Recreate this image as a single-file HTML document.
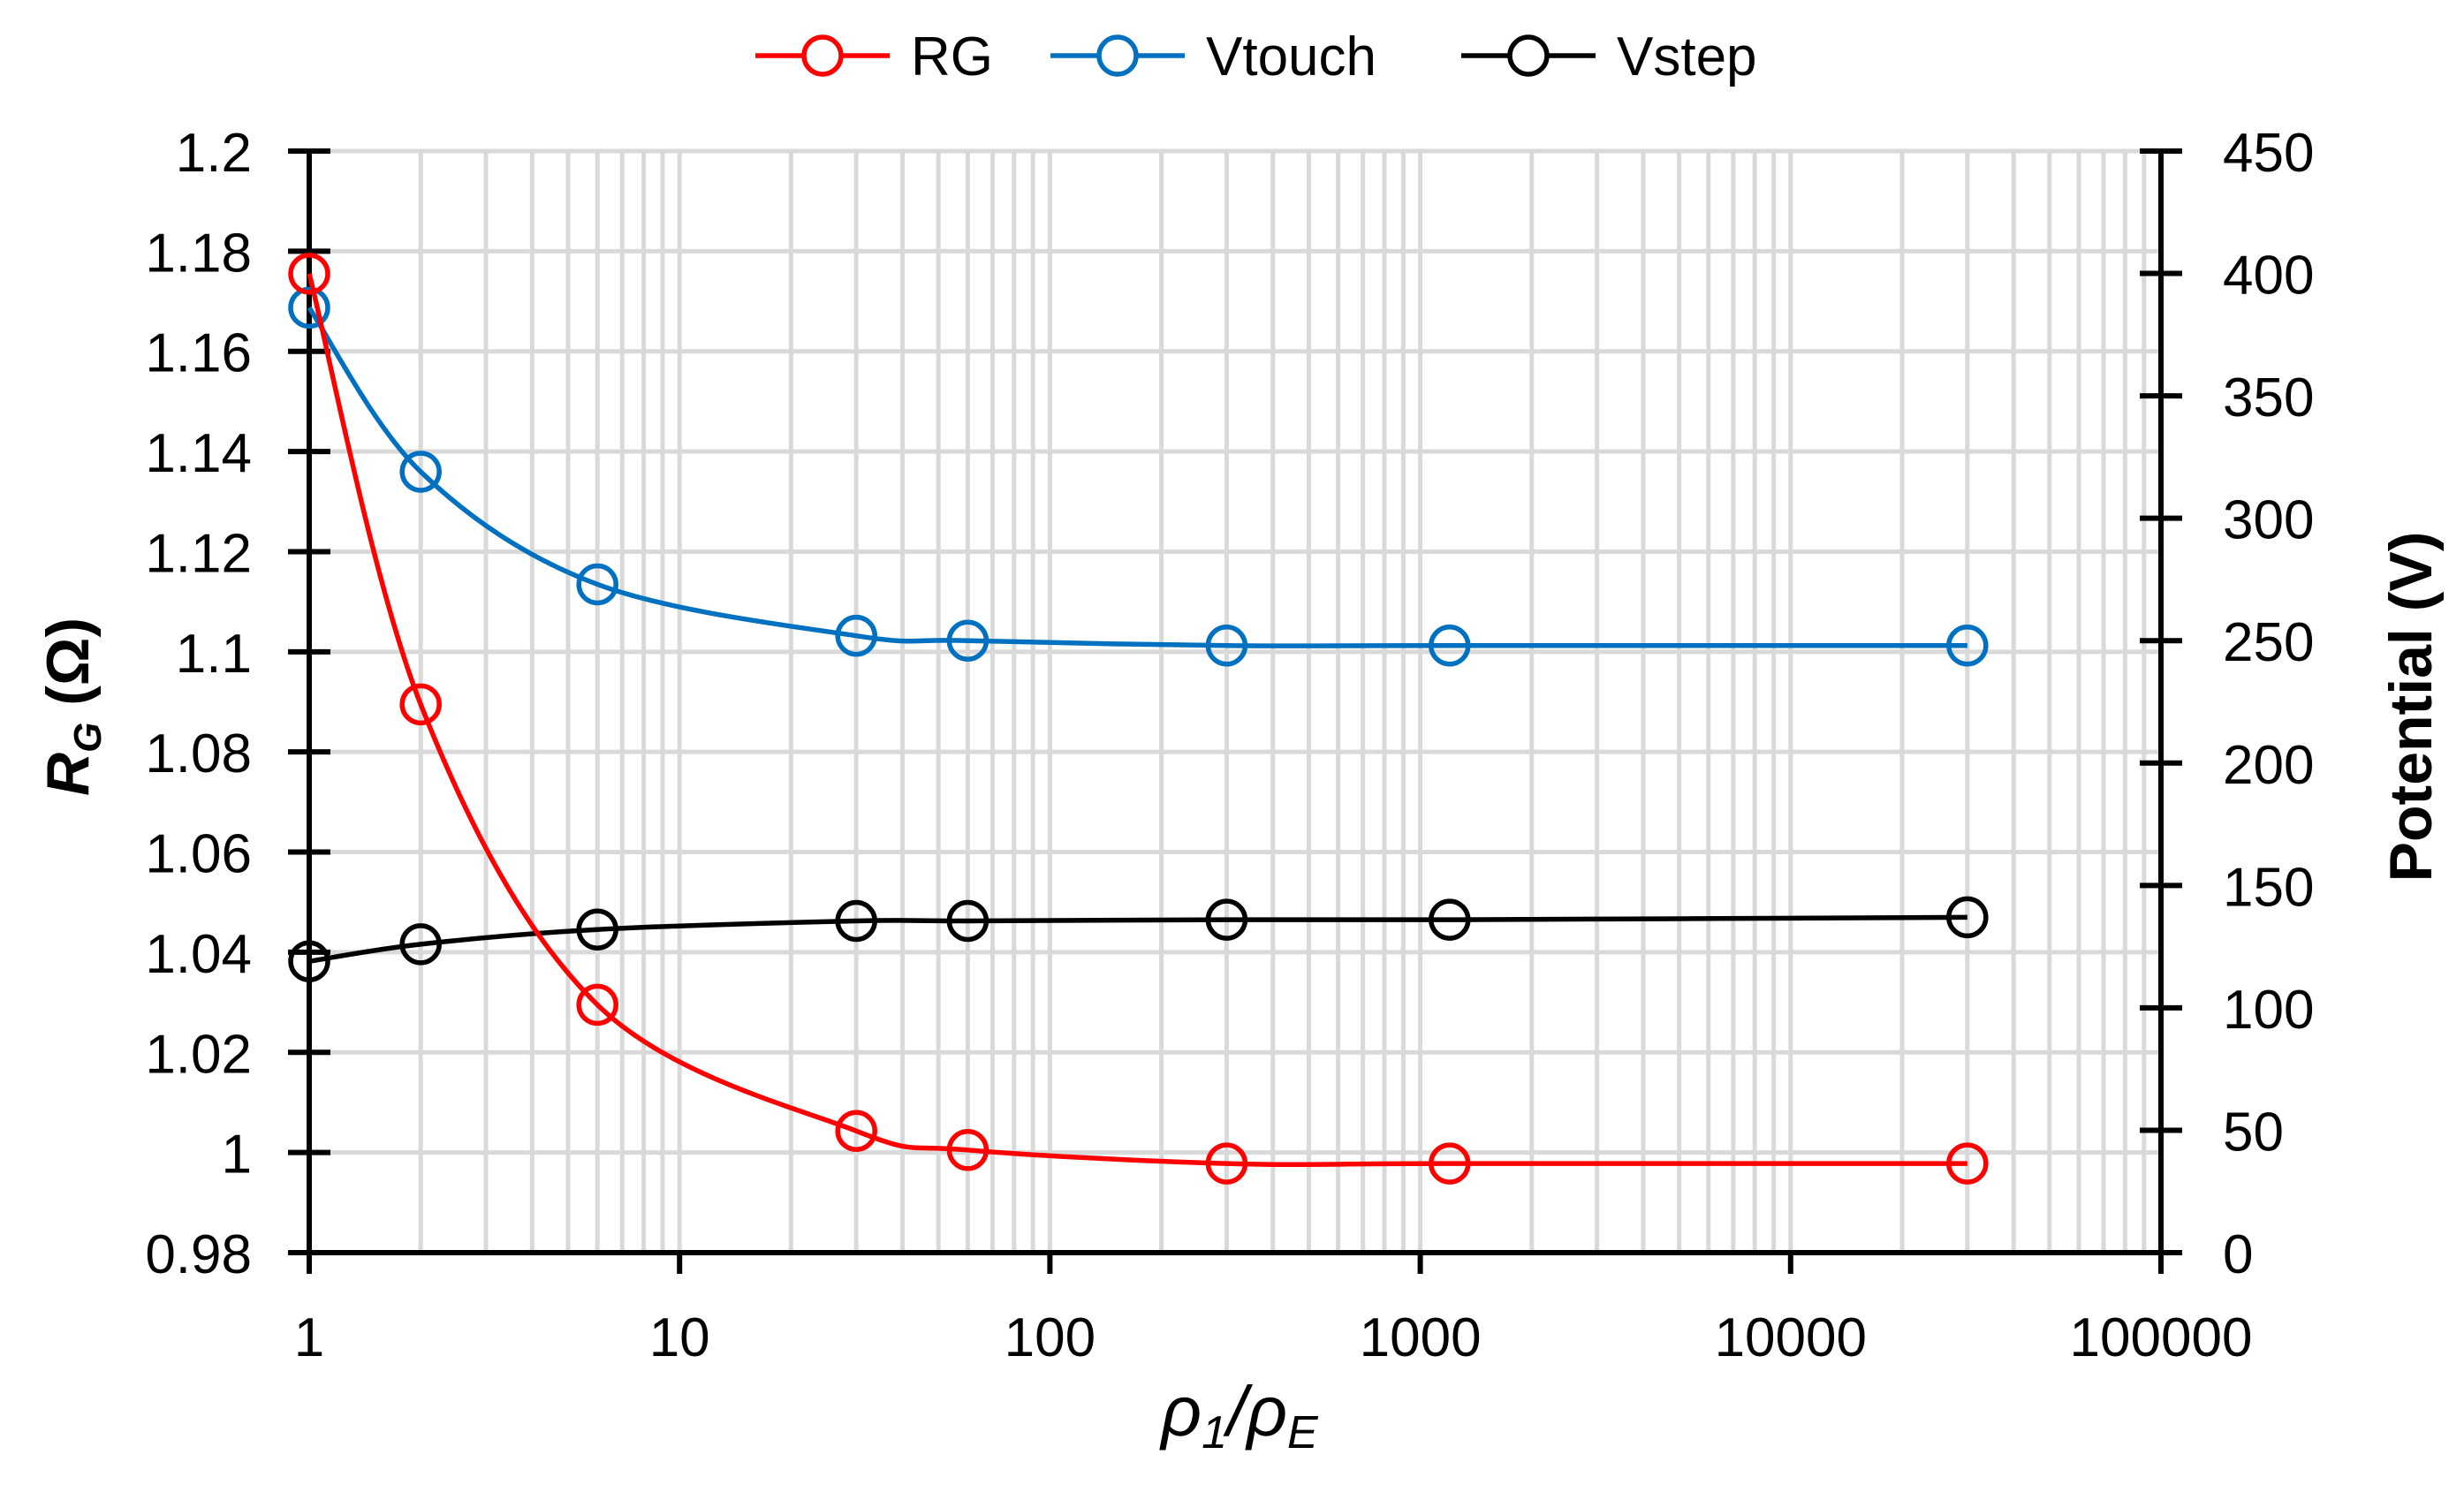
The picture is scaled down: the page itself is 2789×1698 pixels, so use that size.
<!DOCTYPE html>
<html><head><meta charset="utf-8"><style>
html,body{margin:0;padding:0;background:#fff;}
svg{display:block;font-family:"Liberation Sans",sans-serif;}
</style></head><body>
<svg id="chart" width="2789" height="1698" viewBox="0 0 2789 1698" xmlns="http://www.w3.org/2000/svg">
<g id="grid"></g>
<g id="axes"></g>
<g id="series"></g>
<text transform="translate(100,800) rotate(-90)" text-anchor="middle" font-size="68" font-weight="bold"><tspan font-style="italic">R</tspan><tspan font-style="italic" font-size="44" dy="14">G</tspan><tspan dy="-14"> (Ω)</tspan></text>
<text transform="translate(2752,800) rotate(-90)" text-anchor="middle" font-size="68" font-weight="bold">Potential (V)</text>
<text x="1403" y="1625" text-anchor="middle" font-size="80" font-style="italic">ρ<tspan font-size="52" dy="14">1</tspan><tspan dy="-14">/ρ</tspan><tspan font-size="52" dy="14">E</tspan></text>
<g id="legend"></g>
</svg>
<script>
const xValues = [1, 2, 6, 30, 60, 300, 1200, 30000];
const rgValues = [1.1755, 1.0895, 1.0295, 1.0043, 1.0005, 0.9978, 0.9978, 0.9978];
const vtouchValues = [386, 319, 273, 252, 250, 248, 248, 248];
const vstepValues = [119, 126, 132, 135.5, 135.5, 136, 136, 137];
const yTicks = ["0.98","1","1.02","1.04","1.06","1.08","1.1","1.12","1.14","1.16","1.18","1.2"];
const y2Ticks = ["0","50","100","150","200","250","300","350","400","450"];
const xTicks = ["1","10","100","1000","10000","100000"];

const NS="http://www.w3.org/2000/svg";
const L=350,R=2446,T=171,B=1418;
const X=v=>L+(Math.log10(v)/5)*(R-L);
const Y=v=>B-(v-0.98)/0.22*(B-T);
const Y2=v=>B-v/450*(B-T);
function mk(tag,attrs,parent){const e=document.createElementNS(NS,tag);for(const k in attrs)e.setAttribute(k,attrs[k]);parent.appendChild(e);return e;}
const grid=document.getElementById('grid'),axes=document.getElementById('axes'),series=document.getElementById('series'),legend=document.getElementById('legend');

for(let d=0;d<5;d++){for(let m=1;m<=9;m++){const v=Math.pow(10,d)*m;if(v===1)continue;
 const g=mk('line',{x1:X(v),x2:X(v),y1:T,y2:B,stroke:'#d9d9d9','stroke-width':5},grid);
 
 }}
yTicks.forEach(t=>{const v=parseFloat(t);if(v===0.98)return;
 const g=mk('line',{x1:L,x2:R,y1:Y(v),y2:Y(v),stroke:'#d9d9d9','stroke-width':5},grid);
 
 });

let a=mk('line',{x1:L,x2:L,y1:T,y2:B,stroke:'#000','stroke-width':6},axes);

a=mk('line',{x1:R,x2:R,y1:T,y2:B,stroke:'#000','stroke-width':6},axes);

a=mk('line',{x1:L,x2:R,y1:B,y2:B,stroke:'#000','stroke-width':6},axes);


yTicks.forEach(t=>{const y=Y(parseFloat(t));
 const tk=mk('line',{x1:L-24,x2:L+24,y1:y,y2:y,stroke:'#000','stroke-width':6},axes);
 
 const tx=mk('text',{x:285,y:y+23,'text-anchor':'end','font-size':62},axes);tx.textContent=t;
 });
y2Ticks.forEach(t=>{const y=Y2(parseFloat(t));
 const tk=mk('line',{x1:R-24,x2:R+24,y1:y,y2:y,stroke:'#000','stroke-width':6},axes);
 
 const tx=mk('text',{x:2516,y:y+23,'text-anchor':'start','font-size':62},axes);tx.textContent=t;
 });
xTicks.forEach(t=>{const x=X(parseFloat(t));
 const tk=mk('line',{x1:x,x2:x,y1:B,y2:B+24,stroke:'#000','stroke-width':6},axes);
 
 const tx=mk('text',{x:x,y:1535,'text-anchor':'middle','font-size':62},axes);tx.textContent=t;
 });

function smooth(pts){let d=`M${pts[0][0]},${pts[0][1]}`;
 for(let i=0;i<pts.length-1;i++){const p0=pts[Math.max(0,i-1)],p1=pts[i],p2=pts[i+1],p3=pts[Math.min(pts.length-1,i+2)];
  const t=1/6;d+=` C${p1[0]+(p2[0]-p0[0])*t},${p1[1]+(p2[1]-p0[1])*t} ${p2[0]-(p3[0]-p1[0])*t},${p2[1]-(p3[1]-p1[1])*t} ${p2[0]},${p2[1]}`;}
 return d;}
function drawSeries(vals,yf,color,name){
 const pts=xValues.map((x,i)=>[X(x),yf(vals[i])]);
 const p=mk('path',{d:smooth(pts),fill:'none',stroke:color,'stroke-width':5.5},series);
 
 pts.forEach(q=>{const c=mk('circle',{cx:q[0],cy:q[1],r:21,fill:'none',stroke:color,'stroke-width':5.5},series);
  });}
drawSeries(vtouchValues,Y2,'#0070c0','vtouch');
drawSeries(vstepValues,Y2,'#000000','vstep');
drawSeries(rgValues,Y,'#ff0000','rg');

const leg=[['RG','#ff0000',855],['Vtouch','#0070c0',1189],['Vstep','#000000',1654]];
leg.forEach(([lab,col,x0])=>{
 const g=mk('g',{},legend);
 
 
 mk('line',{x1:x0,x2:x0+152,y1:63,y2:63,stroke:col,'stroke-width':5.5},g);
 mk('circle',{cx:x0+76,cy:63,r:21,fill:'#fff',stroke:col,'stroke-width':5.5},g);
 const t=mk('text',{x:x0+176,y:85,'font-size':62},g);t.textContent=lab;});
</script>
</body></html>
